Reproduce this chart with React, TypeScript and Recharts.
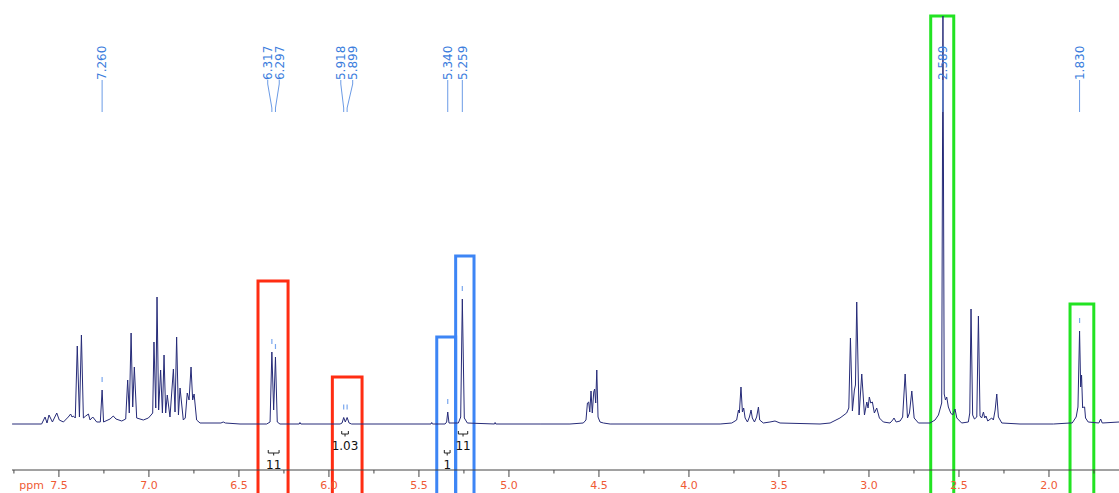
import React from 'react';
import { LineChart, Line, XAxis, YAxis, ReferenceArea, ReferenceLine, ReferenceDot } from 'recharts';

// spectrum points [ppm, intensity]
const aromatic: [number, number][] = [
  [7.760, 0], [7.596, 0], [7.577, 7], [7.566, 1], [7.555, 9], [7.536, 2], [7.512, 11], [7.498, 4],
  [7.475, 2], [7.448, 7], [7.435, 10], [7.427, 7], [7.420, 8], [7.409, 6], [7.398, 78], [7.386, 7],
  [7.375, 89], [7.364, 6], [7.351, 8], [7.336, 10], [7.327, 4], [7.312, 7], [7.290, 2], [7.270, 2],
  [7.260, 34], [7.252, 2], [7.216, 5], [7.198, 8], [7.183, 5], [7.151, 3], [7.129, 5], [7.118, 44],
  [7.109, 11], [7.099, 91], [7.090, 17], [7.081, 57], [7.068, 6], [7.031, 4], [7.003, 6], [6.988, 9],
  [6.979, 11], [6.972, 82], [6.962, 16], [6.955, 127], [6.946, 14], [6.935, 54], [6.925, 11], [6.916, 69],
  [6.907, 11], [6.898, 29], [6.883, 7], [6.864, 55], [6.855, 12], [6.846, 87], [6.836, 9], [6.827, 36],
  [6.809, 4], [6.798, 6], [6.787, 31], [6.777, 24], [6.766, 57], [6.757, 24], [6.749, 30], [6.735, 4],
  [6.716, 1], [6.600, 1], [6.587, 2], [6.575, 1], [6.494, 0],
];

const olefinic: [number, number][] = [
  [6.346, 0], [6.327, 2], [6.317, 72], [6.307, 14], [6.297, 67], [6.287, 2], [6.272, 0], [6.165, 0],
  [6.161, 1.5], [6.156, 0], [5.938, 0], [5.927, 1], [5.918, 6.5], [5.909, 2], [5.899, 6.5], [5.888, 1],
  [5.874, 0], [5.433, 0], [5.429, 1.5], [5.425, 0], [5.355, 0], [5.346, 2], [5.340, 12], [5.333, 1],
  [5.281, 1], [5.268, 7], [5.259, 125], [5.248, 6], [5.231, 1], [5.080, 0], [5.077, 1.5], [5.073, 0],
  [4.827, 0],
];

const midfield: [number, number][] = [
  [4.661, 0], [4.587, 1], [4.572, 4], [4.564, 21], [4.557, 22], [4.551, 12], [4.544, 33], [4.537, 11],
  [4.529, 32], [4.524, 35], [4.518, 21], [4.512, 54], [4.505, 7], [4.494, 2], [4.475, 1], [4.438, 0],
  [3.827, 0], [3.762, 1], [3.735, 4], [3.725, 14], [3.720, 11], [3.711, 37], [3.703, 12], [3.696, 16],
  [3.688, 6], [3.675, 2], [3.664, 7], [3.655, 14], [3.648, 6], [3.636, 2], [3.624, 7], [3.614, 17],
  [3.607, 4], [3.587, 1], [3.550, 2], [3.522, 3], [3.494, 1], [3.272, 0],
];

const aliphatic: [number, number][] = [
  [3.216, 1], [3.161, 6], [3.124, 11], [3.112, 16], [3.103, 86], [3.092, 13], [3.081, 34], [3.075, 39],
  [3.068, 122], [3.055, 9], [3.040, 50], [3.025, 9], [3.012, 22], [3.005, 16], [2.998, 27], [2.990, 21],
  [2.981, 22], [2.970, 11], [2.957, 16], [2.942, 6], [2.920, 2], [2.883, 1], [2.868, 4], [2.861, 6],
  [2.849, 2], [2.827, 3], [2.813, 7], [2.799, 50], [2.786, 6], [2.775, 11], [2.762, 33], [2.749, 6],
  [2.725, 1], [2.661, 1], [2.633, 4], [2.614, 9], [2.596, 21], [2.589, 408], [2.582, 30], [2.575, 24],
  [2.568, 27], [2.559, 17], [2.546, 11], [2.535, 9], [2.522, 15], [2.512, 6], [2.485, 1], [2.448, 2],
  [2.440, 11], [2.433, 115], [2.424, 9], [2.414, 5], [2.401, 7], [2.392, 108], [2.383, 8], [2.374, 6],
  [2.364, 12], [2.357, 6], [2.350, 8], [2.340, 3], [2.318, 6], [2.309, 4], [2.299, 14], [2.290, 30],
  [2.281, 7], [2.262, 1], [2.161, 0], [1.975, 0], [1.883, 1], [1.871, 1], [1.849, 7], [1.839, 17],
  [1.830, 93], [1.824, 37], [1.819, 49], [1.813, 16], [1.808, 17], [1.802, 17], [1.797, 6], [1.782, 2],
  [1.723, 1], [1.713, 5], [1.704, 1], [1.611, 2],
];

// picked peaks and where their labels sit
const pickPpm = [7.260, 6.317, 6.297, 5.918, 5.899, 5.340, 5.259, 2.589, 1.830];
const pickLabelPpm = [7.260, 6.340, 6.276, 5.934, 5.868, 5.340, 5.259, 2.589, 1.830];

// integrals
const integralFrom = [6.337, 5.929, 5.359, 5.281];
const integralTo = [6.277, 5.892, 5.327, 5.229];
const integralLabel = ['11', '1.03', '1', '11'];
const integralRow = [1, 0, 1, 0];

// highlight boxes
const boxFrom = [6.394, 5.981, 5.401, 5.296, 2.657, 1.883];
const boxTo = [6.227, 5.816, 5.296, 5.194, 2.529, 1.751];
const boxTop = [143, 47, 87, 168, 408, 120];
const boxColors = ['#ff2d12', '#ff2d12', '#3d85f5', '#3d85f5', '#22e322', '#22e322'];

const majorTicks = [7.5, 7.0, 6.5, 6.0, 5.5, 5.0, 4.5, 4.0, 3.5, 3.0, 2.5, 2.0];
const minorTicks = [7.75, 7.25, 6.75, 6.25, 5.75, 5.25, 4.75, 4.25, 3.75, 3.25, 2.75, 2.25, 1.75];

const spectrum = [...aromatic, ...olefinic, ...midfield, ...aliphatic].map(([ppm, i]) => ({ ppm, i }));

const peakTop = (ppm: number) => {
  let best = spectrum[0];
  spectrum.forEach(p => { if (Math.abs(p.ppm - ppm) < Math.abs(best.ppm - ppm)) best = p; });
  return best.i;
};

const LABEL_BASE = 344;
const PICK_BLUE = '#3b7ddd';
const LEADER_BLUE = '#6b9be6';

const PpmTick = (props: any) => {
  const { x, y, payload } = props;
  const v = payload.value;
  const major = majorTicks.includes(v);
  return (
    <g>
      <line x1={x} x2={x} y1={y} y2={y + (major ? 7 : 3.5)} stroke="#444" />
      {major && (
        <text x={x} y={y + 19} textAnchor="middle" fill="#ef5a34" fontSize={11} fontFamily="DejaVu Sans">
          {v.toFixed(1)}
        </text>
      )}
      {v === 7.5 && (
        <text x={x - 15} y={y + 19} textAnchor="end" fill="#ef5a34" fontSize={11} fontFamily="DejaVu Sans">
          ppm
        </text>
      )}
    </g>
  );
};

export default function App() {
  const ticks = [...majorTicks, ...minorTicks].sort((a, b) => b - a);
  return (
    <div style={{ position: 'absolute', left: 0, top: 0, background: '#fff' }}>
      <LineChart width={1119} height={493} data={spectrum} margin={{ top: 0, right: 0, bottom: 0, left: 12 }}>
        <XAxis
          dataKey="ppm"
          type="number"
          domain={[1.611, 7.7606]}
          allowDataOverflow
          reversed
          ticks={ticks}
          interval={0}
          height={23}
          tickSize={0}
          tickMargin={0}
          tickLine={false}
          axisLine={{ stroke: '#444' }}
          tick={PpmTick}
        />
        <YAxis hide type="number" domain={[-46, 424]} allowDataOverflow />
        <Line dataKey="i" type="linear" dot={false} stroke="#262b78" strokeWidth={1} isAnimationActive={false} />

        {pickPpm.map((p, k) => {
          const lp = pickLabelPpm[k];
          const top = peakTop(p);
          return (
            <React.Fragment key={'pk' + k}>
              <ReferenceLine segment={[{ x: lp, y: LABEL_BASE }, { x: lp, y: 340 }]} stroke={LEADER_BLUE} ifOverflow="visible" />
              <ReferenceLine segment={[{ x: lp, y: 340 }, { x: p, y: 316 }]} stroke={LEADER_BLUE} ifOverflow="visible" />
              <ReferenceLine segment={[{ x: p, y: 316 }, { x: p, y: 312 }]} stroke={LEADER_BLUE} ifOverflow="visible" />
              {top < 300 && (
                <ReferenceLine segment={[{ x: p, y: top + 8 }, { x: p, y: top + 13 }]} stroke="#7aa7ee" strokeWidth={1.2} ifOverflow="visible" />
              )}
              <ReferenceDot
                x={lp}
                y={LABEL_BASE}
                r={0}
                ifOverflow="visible"
                shape={(s: any) => (
                  <text
                    x={s.cx}
                    y={s.cy}
                    dy="0.36em"
                    transform={`rotate(-90 ${s.cx} ${s.cy})`}
                    textAnchor="start"
                    fill={PICK_BLUE}
                    fontSize={12}
                    fontFamily="DejaVu Sans"
                  >
                    {p.toFixed(3)}
                  </text>
                )}
              />
            </React.Fragment>
          );
        })}

        {integralFrom.map((a, k) => {
          const b = integralTo[k];
          const mid = (a + b) / 2;
          const off = integralRow[k] === 0 ? 0 : -19;
          const upper = -7 + off;
          const bar = -10 + off;
          return (
            <React.Fragment key={'int' + k}>
              <ReferenceLine segment={[{ x: a, y: upper }, { x: a, y: bar }]} stroke="#222" ifOverflow="visible" />
              <ReferenceLine segment={[{ x: a, y: bar }, { x: b, y: bar }]} stroke="#222" ifOverflow="visible" />
              <ReferenceLine segment={[{ x: b, y: upper }, { x: b, y: bar }]} stroke="#222" ifOverflow="visible" />
              <ReferenceLine segment={[{ x: mid, y: bar }, { x: mid, y: bar - 2.5 }]} stroke="#222" ifOverflow="visible" />
              <ReferenceDot
                x={mid}
                y={-25.5 + off}
                r={0}
                ifOverflow="visible"
                shape={(s: any) => (
                  <text x={s.cx} y={s.cy} textAnchor="middle" fill="#111" fontSize={12} fontFamily="DejaVu Sans">
                    {integralLabel[k]}
                  </text>
                )}
              />
            </React.Fragment>
          );
        })}

        {boxFrom.map((a, k) => (
          <ReferenceArea
            key={'box' + k}
            x1={a}
            x2={boxTo[k]}
            y1={-150}
            y2={boxTop[k]}
            fill="none"
            fillOpacity={0}
            stroke={boxColors[k]}
            strokeWidth={3}
            ifOverflow="visible"
          />
        ))}
      </LineChart>
    </div>
  );
}
